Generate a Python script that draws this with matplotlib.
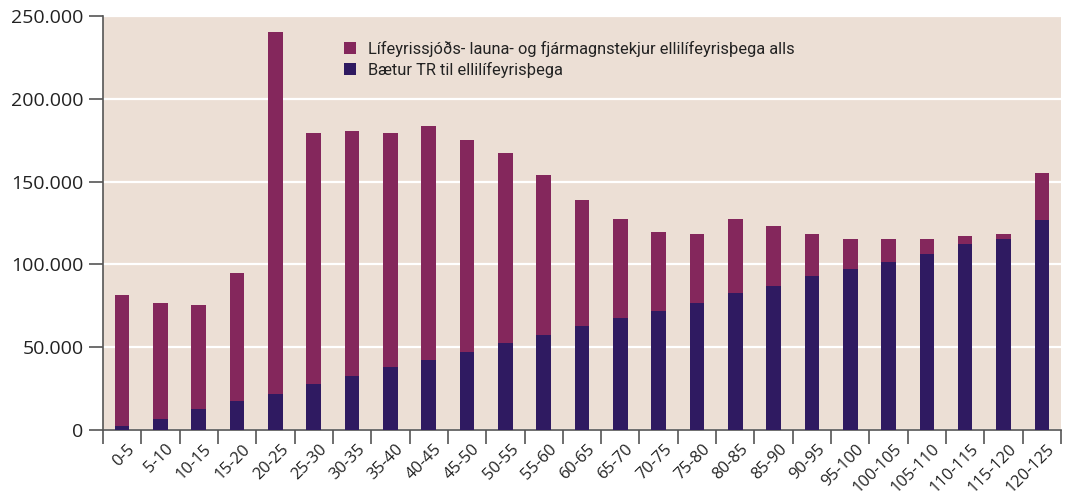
import matplotlib
matplotlib.use("Agg")
import matplotlib.pyplot as plt
import matplotlib.ticker as mticker
import matplotlib.transforms as mtransforms
import numpy as np

categories = ["0-5", "5-10", "10-15", "15-20", "20-25", "25-30", "30-35", "35-40",
              "40-45", "45-50", "50-55", "55-60", "60-65", "65-70", "70-75", "75-80",
              "80-85", "85-90", "90-95", "95-100", "100-105", "105-110", "110-115",
              "115-120", "120-125"]
# Bætur TR (bottom series)
baetur_tr = [2600, 6800, 12800, 17700, 21900, 27900, 32500, 38000,
             42400, 47300, 52700, 57500, 62900, 67700, 71900, 76800,
             82800, 87000, 93000, 97200, 101400, 106300, 112300, 115300, 126700]
totals = [81600, 76800, 75600, 94800, 240500, 179100, 180300, 179100,
          183300, 175000, 167100, 153800, 138800, 127300, 119500, 118300,
          127300, 123100, 118300, 115300, 115300, 115300, 117100, 118300, 155000]
lifeyrir = [t - b for t, b in zip(totals, baetur_tr)]

label_top = "Lífeyrissjóðs- launa- og fjármagnstekjur ellilífeyrisþega alls"
label_bottom = "Bætur TR til ellilífeyrisþega"

c_top = "#84275c"
c_bot = "#2f1a61"
bg = "#ecdfd5"
axcol = "#555555"

plt.rcParams['font.family'] = ['Open Sans', 'DejaVu Sans']

fig = plt.figure(figsize=(10.66, 4.91), dpi=100)
ax = fig.add_axes([0.0966, 0.1242, 0.8987, 0.8432])
ax.set_facecolor(bg)

x = np.arange(len(categories))
w = 0.38
ax.bar(x, baetur_tr, width=w, color=c_bot, label=label_bottom, zorder=3)
ax.bar(x, lifeyrir, width=w, bottom=baetur_tr, color=c_top, label=label_top, zorder=3)

ax.set_xlim(-0.5, len(categories) - 0.5)
ax.set_ylim(0, 250000)
ax.set_yticks(np.arange(0, 250001, 50000))
ax.yaxis.set_major_formatter(mticker.FuncFormatter(lambda v, p: f"{int(v):,}".replace(",", ".")))
ax.grid(axis='y', color='white', linewidth=1.6, zorder=1)
ax.set_axisbelow(True)

for s in ['top', 'right']:
    ax.spines[s].set_visible(False)
for s in ['left', 'bottom']:
    ax.spines[s].set_color(axcol)
    ax.spines[s].set_linewidth(1.2)

ax.tick_params(axis='y', length=10, width=1.2, color=axcol, labelsize=14, labelcolor='#222222', pad=4)
ax.set_xticks(x)
ax.set_xticklabels(categories, rotation=45, ha='right', rotation_mode='anchor', fontsize=11.8, color='#222222')
ax.tick_params(axis='x', which='major', length=0, pad=8)
ax.set_xticks(np.arange(-0.5, len(categories), 1.0), minor=True)
ax.tick_params(axis='x', which='minor', length=10, width=1.2, color=axcol)
offset = mtransforms.ScaledTranslation(0.05, 0.0, fig.dpi_scale_trans)
for lab in ax.get_xticklabels():
    lab.set_transform(lab.get_transform() + offset)

handles, labels = ax.get_legend_handles_labels()
leg = ax.legend(handles[::-1], labels[::-1], loc='upper left', bbox_to_anchor=(0.236, 0.975),
                frameon=False, handlelength=0.75, handleheight=0.75,
                handletextpad=0.75, labelspacing=0.3,
                prop={'family': ['Roboto', 'DejaVu Sans'], 'size': 11.8})
for t in leg.get_texts():
    t.set_color('#222222')

fig.savefig("out.png", dpi=100, facecolor='white')
